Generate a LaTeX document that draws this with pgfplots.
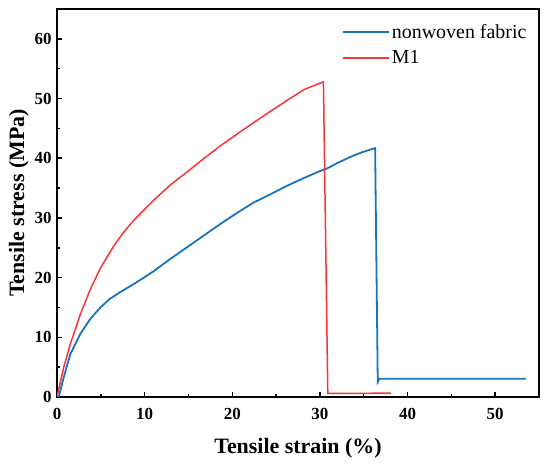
\documentclass[border=0pt]{standalone}
\usepackage{pgfplots}
\pgfplotsset{compat=1.18}
\usepackage{fontspec}
\setmainfont{Liberation Serif}
\definecolor{cblue}{RGB}{24,116,190}
\definecolor{cred}{RGB}{250,52,52}
\begin{document}
\begin{tikzpicture}
\begin{axis}[
  scale only axis,
  width=482bp, height=388bp,
  xmin=0, xmax=55, ymin=0, ymax=65,
  xtick={0,10,...,50}, ytick={0,10,...,60},
  minor x tick num=1, minor y tick num=1,
  axis line style={line width=2bp},
  tick style={line width=1.5bp, black},
  major tick length=5bp, minor tick length=3bp,
  tick align=inside,
  xtick pos=bottom, ytick pos=left,
  /pgf/number format/assume math mode=true,
  ticklabel style={font=\bfseries\fontsize{17}{17}\selectfont},
  xticklabel style={yshift=-8bp},
  yticklabel style={xshift=-2bp},
  xlabel={Tensile strain (\%)},
  ylabel={Tensile stress (MPa)},
  label style={font=\bfseries\fontsize{22}{22}\selectfont},
  xlabel style={yshift=-12bp},
  ylabel style={yshift=-1bp},
  legend style={draw=none, fill=none, at={(0.585,0.972)}, anchor=north west,
    font=\fontsize{20}{20}\selectfont, row sep=7bp,
    legend cell align=left},
  legend image code/.code={\draw[#1] (0bp,0bp) -- (46bp,0bp);},
]
\addplot[cblue, line width=1.8bp] coordinates {
(0.2,0) (0.77,3.3) (1.53,7.2) (2.67,10.6) (3.8,13.1) (4.96,15.0) (6.0,16.4)
(7.24,17.6) (8.4,18.6) (9.6,19.7) (11.05,21.1) (12.9,23.1) (14.85,25.1) (16.8,27.1) (18.66,29.0)
(20.5,30.8) (22.47,32.6) (24.4,34.0) (26.27,35.4) (28.2,36.7) (30.1,37.9) (30.7,38.2)
(32.0,39.2) (33.9,40.5) (35.0,41.1) (36.3,41.7) (36.6,2.5) (36.8,3.05) (53.5,3.05)
};
\addlegendentry{nonwoven fabric}
\addplot[cred, line width=1.5bp] coordinates {
(0,0) (0.77,5.0) (1.53,8.9) (2.67,13.9) (3.8,18.0) (4.96,21.6) (6.48,25.3)
(7.6,27.6) (8.76,29.6) (11.05,33.0) (13.0,35.6) (14.85,37.7) (16.8,40.0) (18.66,42.1)
(20.5,44.0) (22.47,46.0) (24.4,47.9) (26.27,49.7) (28.2,51.5) (30.4,52.8) (30.9,0.6)
(38.1,0.64)
};
\addlegendentry{M1}
\end{axis}
\pgfresetboundingbox
\path ([shift={(-57bp,-68bp)}]current axis.south west) rectangle ([shift={(11bp,9bp)}]current axis.north east);
\end{tikzpicture}
\end{document}
